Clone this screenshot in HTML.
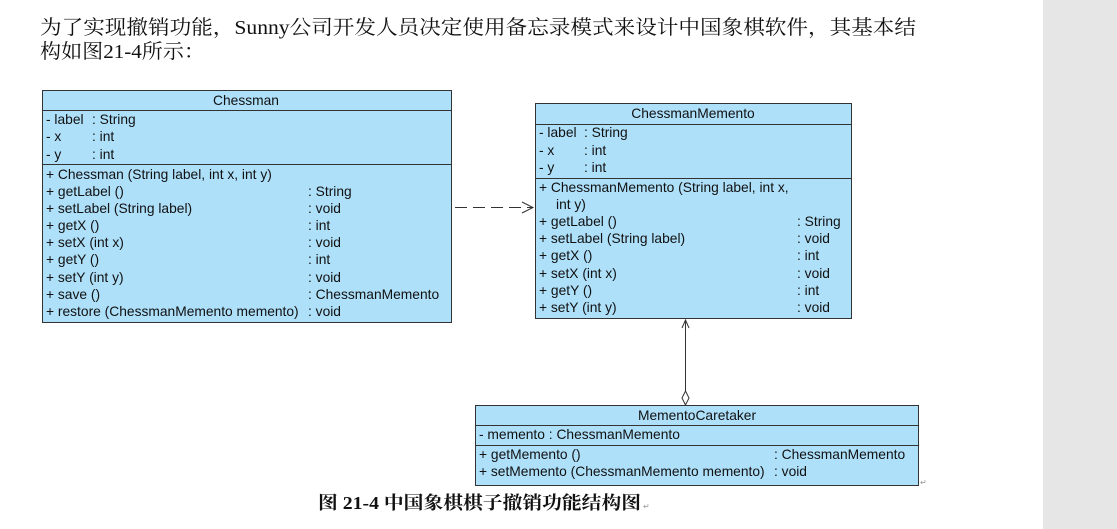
<!DOCTYPE html>
<html><head><meta charset="utf-8"><style>
html,body{margin:0;padding:0;background:#fff;}
body{width:1117px;height:529px;overflow:hidden;position:relative;}
svg{position:absolute;left:0;top:0;}
.t{font-family:"Liberation Sans",sans-serif;font-size:13.8px;fill:#111;}
.cn{font-family:"Liberation Serif","Noto Serif CJK SC",serif;font-size:20px;fill:#111;}
</style></head><body>
<svg width="1117" height="529" xmlns="http://www.w3.org/2000/svg">
<rect x="1043" y="0" width="74" height="529" fill="#e6e6e6"/>
<text class="cn" x="40" y="34" textLength="876" lengthAdjust="spacingAndGlyphs">为了实现撤销功能，Sunny公司开发人员决定使用备忘录模式来设计中国象棋软件，其基本结</text>
<text class="cn" x="40" y="58" textLength="165" lengthAdjust="spacingAndGlyphs">构如图21-4所示：</text>

<!-- Chessman -->
<g stroke="#333" stroke-width="1" fill="#aee0fa">
<rect x="42.5" y="90.5" width="409" height="232"/>
<line x1="42" y1="110.5" x2="451" y2="110.5"/>
<line x1="42" y1="164.5" x2="451" y2="164.5"/>
</g>
<g class="t">
<text x="246" y="105" text-anchor="middle">Chessman</text>
<text x="46" y="124">- label</text><text x="92" y="124">: String</text>
<text x="46" y="141">- x</text><text x="92" y="141">: int</text>
<text x="46" y="159">- y</text><text x="92" y="159">: int</text>
<text x="46" y="179">+  Chessman (String label, int x, int y)</text>
<text x="46" y="196">+  getLabel ()</text><text x="308" y="196">: String</text>
<text x="46" y="213">+  setLabel (String label)</text><text x="308" y="213">: void</text>
<text x="46" y="230">+  getX ()</text><text x="308" y="230">: int</text>
<text x="46" y="247">+  setX (int x)</text><text x="308" y="247">: void</text>
<text x="46" y="264">+  getY ()</text><text x="308" y="264">: int</text>
<text x="46" y="282">+  setY (int y)</text><text x="308" y="282">: void</text>
<text x="46" y="299">+  save ()</text><text x="308" y="299">: ChessmanMemento</text>
<text x="46" y="316">+  restore (ChessmanMemento memento)</text><text x="308" y="316">: void</text>
</g>

<!-- ChessmanMemento -->
<g stroke="#333" stroke-width="1" fill="#aee0fa">
<rect x="535.5" y="103.5" width="316" height="215"/>
<line x1="535" y1="124.5" x2="851" y2="124.5"/>
<line x1="535" y1="178.5" x2="851" y2="178.5"/>
</g>
<g class="t">
<text x="693" y="118" text-anchor="middle">ChessmanMemento</text>
<text x="539" y="137">- label</text><text x="584" y="137">: String</text>
<text x="539" y="155">- x</text><text x="584" y="155">: int</text>
<text x="539" y="172">- y</text><text x="584" y="172">: int</text>
<text x="539" y="192">+  ChessmanMemento (String label, int x,</text>
<text x="556" y="209">int y)</text>
<text x="539" y="226">+  getLabel ()</text><text x="797" y="226">: String</text>
<text x="539" y="243">+  setLabel (String label)</text><text x="797" y="243">: void</text>
<text x="539" y="260">+  getX ()</text><text x="797" y="260">: int</text>
<text x="539" y="278">+  setX (int x)</text><text x="797" y="278">: void</text>
<text x="539" y="295">+  getY ()</text><text x="797" y="295">: int</text>
<text x="539" y="312">+  setY (int y)</text><text x="797" y="312">: void</text>
</g>

<!-- dependency -->
<line x1="455" y1="207.5" x2="533" y2="207.5" stroke="#333" stroke-dasharray="12,6"/>
<polyline points="522,202 533,207.5 522,213" fill="none" stroke="#333"/>

<!-- aggregation -->
<line x1="685.5" y1="320" x2="685.5" y2="392" stroke="#333"/>
<polyline points="682,328 685.5,320 689,328" fill="none" stroke="#333"/>
<polygon points="685.5,391 689,398 685.5,405 682,398" fill="#fff" stroke="#333"/>

<!-- MementoCaretaker -->
<g stroke="#333" stroke-width="1" fill="#aee0fa">
<rect x="475.5" y="405.5" width="443" height="80"/>
<line x1="475" y1="425.5" x2="918" y2="425.5"/>
<line x1="475" y1="445.5" x2="918" y2="445.5"/>
</g>
<g class="t">
<text x="697" y="420" text-anchor="middle">MementoCaretaker</text>
<text x="479" y="439">- memento  : ChessmanMemento</text>
<text x="479" y="459">+  getMemento ()</text><text x="774" y="459">: ChessmanMemento</text>
<text x="479" y="476">+  setMemento (ChessmanMemento memento)</text><text x="774" y="476">: void</text>
</g>
<text x="920" y="485" font-family="Liberation Sans,sans-serif" font-size="8" fill="#999">↵</text>

<text x="318" y="509" font-family="Liberation Serif,'Noto Serif CJK SC',serif" font-size="18" font-weight="bold" fill="#111" textLength="323" lengthAdjust="spacingAndGlyphs">图 21-4  中国象棋棋子撤销功能结构图</text>
<text x="643" y="509" font-family="Liberation Sans,sans-serif" font-size="8" fill="#999">↵</text>
</svg>
</body></html>
